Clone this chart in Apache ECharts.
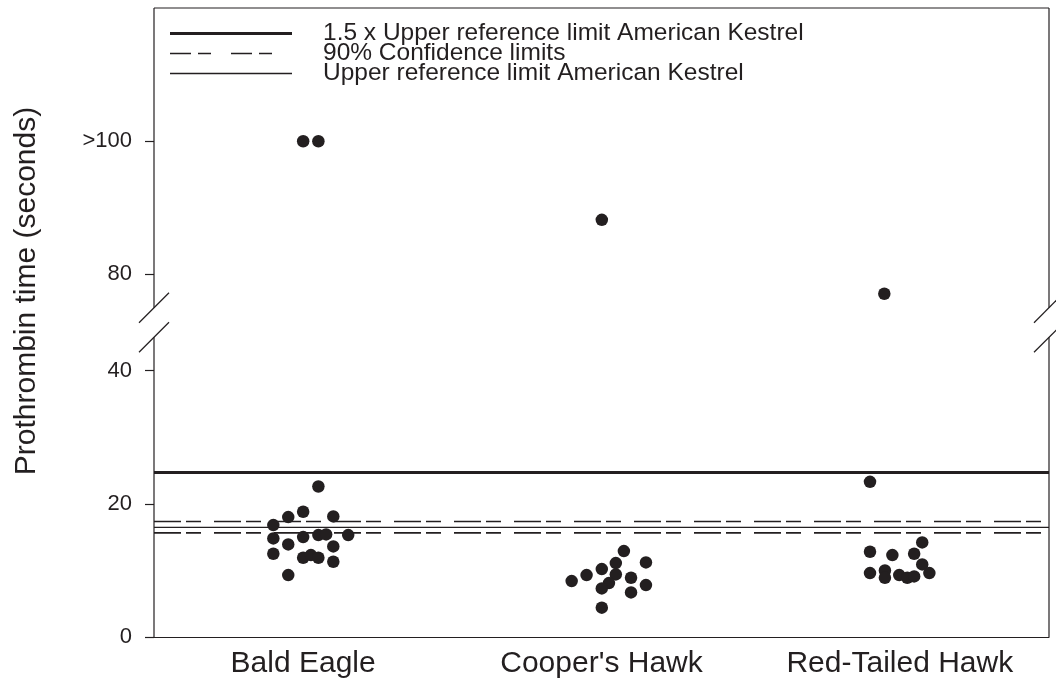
<!DOCTYPE html>
<html>
<head>
<meta charset="utf-8">
<script src="https://cdn.jsdelivr.net/npm/echarts@6/dist/echarts.min.js"></script>
<style>
html, body { margin: 0; padding: 0; background: #fff; }
#chart-panel { width: 1056px; height: 688px; }
</style>
</head>
<body>
<div id="chart-panel"></div>
<script>
var categories = ['Bald Eagle', "Cooper's Hawk", 'Red-Tailed Hawk'];

// x = jitter position (category n is centred on n + 0.5), y = prothrombin time (s)
var eagleX = [0.551, 0.450, 0.500, 0.601, 0.400, 0.400, 0.500, 0.551, 0.577, 0.651, 0.450, 0.601, 0.400, 0.500, 0.526, 0.551, 0.601, 0.450, 0.500, 0.551];
var eagleY = [22.6, 18.0, 18.8, 18.1, 16.8, 14.8, 15.0, 15.3, 15.4, 15.3, 13.9, 13.6, 12.5, 11.9, 12.3, 11.9, 11.3, 9.3, 100, 100];
var hawkX = [1.575, 1.548, 1.649, 1.501, 1.450, 1.400, 1.548, 1.599, 1.525, 1.501, 1.649, 1.599, 1.501, 1.501];
var hawkY = [12.9, 11.1, 11.2, 10.2, 9.3, 8.4, 9.4, 8.9, 8.1, 7.3, 7.8, 6.7, 4.4, 88.2];
var redtailX = [2.400, 2.575, 2.400, 2.548, 2.475, 2.575, 2.400, 2.450, 2.450, 2.498, 2.525, 2.548, 2.599, 2.448];
var redtailY = [23.3, 14.2, 12.8, 12.5, 12.3, 10.9, 9.6, 10.0, 8.9, 9.3, 8.9, 9.1, 9.6, 77.1];

// reference limits (seconds)
var upperRef = 16.45;
var upperRef15 = 24.68;
var ciLow = 15.64;
var ciHigh = 17.35;

var tickValues = [0, 20, 40, 80, 100];
var tickLabels = ['0', '20', '40', '80', '>100'];

// broken axis: everything above the break is shifted down
var breakLow = 45;
var breakHigh = 75;
var axisShift = 25.56;
var yTop = 120;

function toAxis(v) {
    return v >= 60 ? v - axisShift : v;
}

var points = [];
[[eagleX, eagleY], [hawkX, hawkY], [redtailX, redtailY]].forEach(function (g) {
    for (var i = 0; i < g[0].length; i++) {
        points.push([g[0][i], toAxis(g[1][i])]);
    }
});

function hline(name, v, style) {
    return {
        type: 'line',
        name: name,
        xAxisIndex: 1,
        symbol: 'none',
        silent: true,
        data: [[0, v], [3, v]],
        lineStyle: style,
        z: 1
    };
}

var ink = '#231f20';

var chartPanel = document.getElementById('chart-panel');
var myChart = echarts.init(chartPanel);

chartOption = {
    backgroundColor: '#fff',
    animation: false,
    grid: {
        left: 154,
        right: 7,
        top: 8,
        bottom: 51
    },
    xAxis: [{
        type: 'category',
        data: categories,
        axisLine: { lineStyle: { color: ink, width: 1.2 } },
        axisTick: { alignWithLabel: true, length: 7, lineStyle: { color: ink } },
        axisLabel: {
            color: ink,
            fontSize: 30,
            fontFamily: 'Liberation Sans',
            margin: 12
        }
    }, {
        type: 'value',
        min: 0,
        max: 3,
        show: false
    }],
    yAxis: {
        type: 'value',
        min: 0,
        max: toAxis(yTop),
        axisLine: { show: false },
        splitLine: { show: false },
        axisTick: {
            show: true,
            length: 9,
            customValues: tickValues.map(toAxis),
            lineStyle: { color: ink, width: 1.2 }
        },
        axisLabel: {
            color: ink,
            fontSize: 22,
            fontFamily: 'Liberation Sans',
            margin: 22,
            customValues: tickValues.map(toAxis),
            formatter: function (value) {
                for (var i = 0; i < tickValues.length; i++) {
                    if (Math.abs(toAxis(tickValues[i]) - value) < 1e-6) {
                        return tickLabels[i];
                    }
                }
                return '';
            }
        }
    },
    series: [
        {
            type: 'scatter',
            xAxisIndex: 1,
            data: points,
            symbol: 'circle',
            symbolSize: 12.5,
            itemStyle: { color: ink, opacity: 1 },
            z: 5
        },
        hline('1.5 x Upper reference limit American Kestrel', upperRef15, { color: ink, width: 3 }),
        hline('90% Confidence limits', ciHigh, { color: ink, width: 1.6, type: [27, 5, 15, 13] }),
        hline('90% Confidence limits', ciLow, { color: ink, width: 1.6, type: [27, 5, 15, 13] }),
        hline('Upper reference limit American Kestrel', upperRef, { color: ink, width: 1.3 })
    ]
};

myChart.setOption(chartOption);

// frame, axis break marks, legend and axis title
function px(x, y) {
    return myChart.convertToPixel({ seriesIndex: 0 }, [x, y]);
}

function seg(a, b, width, dash) {
    return {
        type: 'line',
        silent: true,
        shape: { x1: a[0], y1: a[1], x2: b[0], y2: b[1] },
        style: { stroke: ink, lineWidth: width || 1.2, lineDash: dash || null },
        z: 10
    };
}

var frameTop = toAxis(yTop);
var cutLow = breakLow;
var cutHigh = toAxis(breakHigh);
var els = [];
[0, 3].forEach(function (x) {
    els.push(seg(px(x, 0), px(x, cutLow)));
    els.push(seg(px(x, cutHigh), px(x, frameTop)));
    [cutLow, cutHigh].forEach(function (c) {
        var p = px(x, c);
        els.push(seg([p[0] - 15, p[1] + 15], [p[0] + 15, p[1] - 15]));
    });
});
els.push(seg(px(0, frameTop), px(3, frameTop)));

var legendRows = [
    { text: '1.5 x Upper reference limit American Kestrel', width: 3, dash: null },
    { text: '90% Confidence limits', width: 1.6, dash: [21, 7, 13, 20] },
    { text: 'Upper reference limit American Kestrel', width: 1.3, dash: null }
];
legendRows.forEach(function (r, i) {
    var y = 33.5 + i * 20;
    els.push(seg([170, y], [292, y], r.width, r.dash));
    els.push({
        type: 'text',
        silent: true,
        x: 323,
        y: y,
        style: {
            text: r.text,
            fill: ink,
            font: '24.5px "Liberation Sans"',
            verticalAlign: 'middle'
        },
        z: 10
    });
});

els.push({
    type: 'text',
    silent: true,
    x: 27,
    y: 291,
    rotation: Math.PI / 2,
    style: {
        text: 'Prothrombin time (seconds)',
        fill: ink,
        font: '30px "Liberation Sans"',
        align: 'center',
        verticalAlign: 'middle'
    }
});

myChart.setOption({ graphic: { elements: els } });
</script>
</body>
</html>
